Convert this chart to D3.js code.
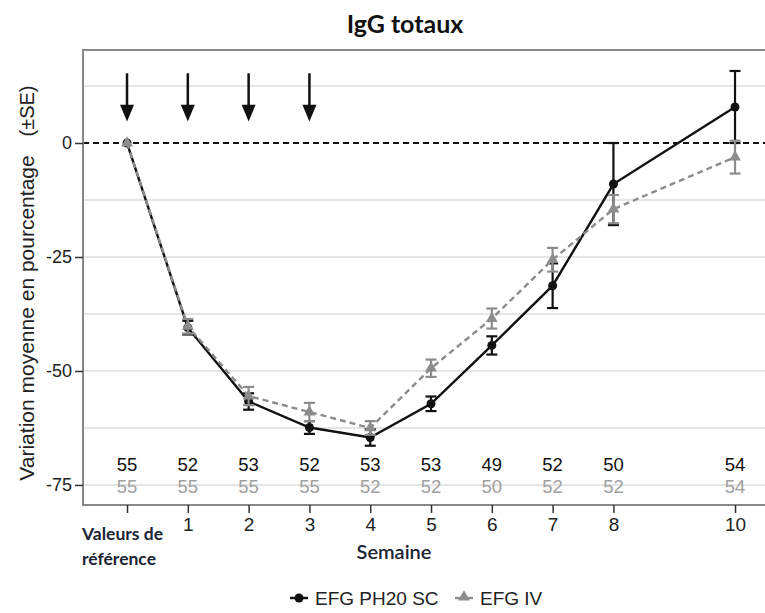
<!DOCTYPE html>
<html><head><meta charset="utf-8">
<script src="https://cdn.jsdelivr.net/npm/d3@7"></script>
<style>body{margin:0;background:#fff}svg{display:block}</style>
</head><body>
<svg id="c" width="765" height="613"></svg>
<script>
const weeks = [0,1,2,3,4,5,6,7,8,10];
const tickLabels = ["","1","2","3","4","5","6","7","8","10"];
const scMean = [0,-40.5,-56.7,-62.4,-64.6,-57.2,-44.4,-31.3,-9,7.9];
const scSE   = [0.4,1.5,1.8,1.4,1.8,1.6,2.0,4.9,9,7.9];
const ivMean = [0,-40.2,-55.5,-59,-62.5,-49.4,-38.5,-25.6,-14.5,-3.1];
const ivSE   = [0.4,1.6,2.0,2.0,1.5,1.9,2.2,2.6,3.1,3.6];
const scN = [55,52,53,52,53,53,49,52,50,54];
const ivN = [55,55,55,55,52,52,50,52,52,54];
const arrowWeeks = [0,1,2,3];
const yTicks = [0,-25,-50,-75];
const gridVals = [12.5,-12.5,-25,-37.5,-50,-62.5,-75];

const svg = d3.select("#c");
const x = d3.scaleLinear().domain([-0.724,10.493]).range([83,765]);
const y = d3.scaleLinear().domain([-79.4,20.4]).range([505,50]);
const AR = "Liberation Sans, Arial, sans-serif";
const CAL = "Lato, 'Open Sans', sans-serif";

// title
svg.append("text").attr("x",405).attr("y",33).attr("text-anchor","middle")
  .attr("font-family",CAL).attr("font-weight","bold").attr("font-size",25).attr("fill","#111").text("IgG totaux");

// grid
svg.selectAll("line.grid").data(gridVals).enter().append("line")
  .attr("x1",83).attr("x2",765).attr("y1",d=>y(d)).attr("y2",d=>y(d))
  .attr("stroke","#dcdcdc").attr("stroke-width",1.5);
// zero dashed
svg.append("line").attr("x1",83).attr("x2",765).attr("y1",y(0)).attr("y2",y(0))
  .attr("stroke","#111").attr("stroke-width",1.8).attr("stroke-dasharray","6,4");

// frame
svg.append("path").attr("d",`M765,${y(20.4)}H83V${y(-79.4)}H765`).attr("fill","none")
  .attr("stroke","#888").attr("stroke-width",2);

// axes
const yAxis = d3.axisLeft(y).tickValues(yTicks).tickSize(8).tickPadding(3).tickFormat(d=>d);
const ga = svg.append("g").attr("transform","translate(83,0)").call(yAxis);
ga.select(".domain").remove();
ga.selectAll("line").attr("stroke","#333").attr("stroke-width",1.5);
ga.selectAll("text").attr("font-family",AR).attr("font-size",18).attr("fill","#222");

const xAxis = d3.axisBottom(x).tickValues(weeks).tickSize(8).tickPadding(5).tickFormat((d,i)=>tickLabels[i]);
const gx = svg.append("g").attr("transform",`translate(0,${y(-79.4)})`).call(xAxis);
gx.select(".domain").remove();
gx.selectAll("line").attr("stroke","#333").attr("stroke-width",1.5);
gx.selectAll("text").attr("font-family",AR).attr("font-size",19).attr("fill","#222");

// x labels
const vr = svg.append("text").attr("font-family",CAL).attr("font-weight","bold").attr("font-size",17.5).attr("fill","#1b2433");
vr.append("tspan").attr("x",82).attr("y",540).text("Valeurs de");
vr.append("tspan").attr("x",82).attr("y",565).text("référence");
svg.append("text").attr("x",394).attr("y",559).attr("text-anchor","middle")
  .attr("font-family",CAL).attr("font-weight",600).attr("font-size",20).attr("fill","#1b2433").text("Semaine");

// y title
svg.append("text").attr("transform","translate(34,318) rotate(-90)").attr("text-anchor","middle")
  .attr("font-family",AR).attr("font-size",21).attr("fill","#222").text("Variation moyenne en pourcentage");
svg.append("text").attr("transform","translate(34,111) rotate(-90)").attr("text-anchor","middle")
  .attr("font-family",AR).attr("font-size",20).attr("fill","#222").text("(±SE)");

// arrows
const arr = svg.append("g");
arrowWeeks.forEach(w=>{
  arr.append("line").attr("x1",x(w)).attr("x2",x(w)).attr("y1",y(15.3)).attr("y2",y(7.5))
    .attr("stroke","#111").attr("stroke-width",2.5);
  arr.append("path").attr("d",`M${x(w)-7},${y(8.4)}L${x(w)+7},${y(8.4)}L${x(w)},${y(4.7)}Z`).attr("fill","#111");
});

function series(mean,se,color,dash,marker,lw,ecol){
  const g = svg.append("g");
  const pts = weeks.map((w,i)=>[w,mean[i],se[i]]);
  g.append("path").datum(pts).attr("fill","none").attr("stroke",color).attr("stroke-width",lw)
    .attr("stroke-dasharray",dash).attr("d",d3.line().x(d=>x(d[0])).y(d=>y(d[1])));
  pts.forEach(d=>{
    if(d[0]===0) return;
    const cx=x(d[0]), t=y(d[1]+d[2]), b=y(d[1]-d[2]);
    g.append("line").attr("x1",cx).attr("x2",cx).attr("y1",t).attr("y2",b).attr("stroke",ecol).attr("stroke-width",2.2);
    [t,b].forEach(yy=>g.append("line").attr("x1",cx-5.5).attr("x2",cx+5.5).attr("y1",yy).attr("y2",yy).attr("stroke",ecol).attr("stroke-width",2.2));
  });
  pts.forEach(d=>{
    const cx=x(d[0]), cy=y(d[1]);
    if(marker==="circle") g.append("circle").attr("cx",cx).attr("cy",cy).attr("r",4.5).attr("fill",color);
    else g.append("path").attr("transform",`translate(${cx},${cy})`).attr("d",d3.symbol(d3.symbolTriangle,60)()).attr("fill",color);
  });
}
series(scMean,scSE,"#111","none","circle",2.4,"#111");
series(ivMean,ivSE,"#8c8c8c","6,4","tri",2.4,"#8c8c8c");

// n counts
svg.selectAll("text.ns").data(weeks).enter().append("text").attr("class","ns")
  .attr("x",d=>x(d)).attr("y",y(-70.5)).attr("dy","0.36em").attr("text-anchor","middle")
  .attr("font-family",AR).attr("font-size",18.5).attr("fill","#111").text((d,i)=>scN[i]);
svg.selectAll("text.ni").data(weeks).enter().append("text").attr("class","ni")
  .attr("x",d=>x(d)).attr("y",y(-75.3)).attr("dy","0.36em").attr("text-anchor","middle")
  .attr("font-family",AR).attr("font-size",18.5).attr("fill","#a0a0a0").text((d,i)=>ivN[i]);

// legend
const lg = svg.append("g");
lg.append("line").attr("x1",290).attr("x2",308).attr("y1",598).attr("y2",598).attr("stroke","#111").attr("stroke-width",2.4);
lg.append("circle").attr("cx",299).attr("cy",598).attr("r",4.5).attr("fill","#111");
lg.append("text").attr("x",315).attr("y",605).attr("font-family",AR).attr("font-size",19).attr("fill","#222").text("EFG PH20 SC");
lg.append("line").attr("x1",455).attr("x2",473).attr("y1",598).attr("y2",598).attr("stroke","#8c8c8c").attr("stroke-width",2.4);
lg.append("path").attr("transform","translate(464,597)").attr("d",d3.symbol(d3.symbolTriangle,60)()).attr("fill","#8c8c8c");
lg.append("text").attr("x",480).attr("y",605).attr("font-family",AR).attr("font-size",19).attr("fill","#222").text("EFG IV");
</script>
</body></html>
